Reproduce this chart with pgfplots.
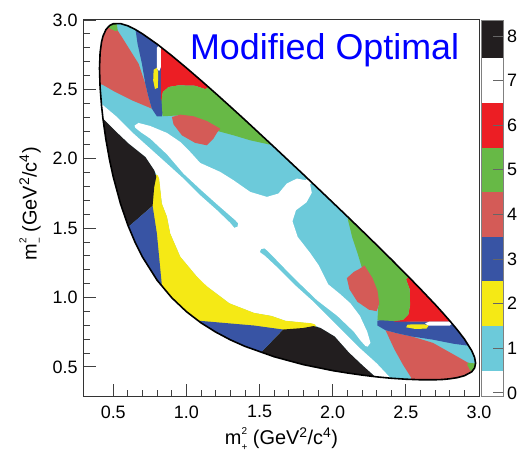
\documentclass[border=0pt]{standalone}
\usepackage{fontspec}
\setmainfont{Liberation Sans}
\usepackage{pgfplots}
\usepackage{pgfplotstable}
\pgfplotsset{compat=1.18}
\definecolor{cCyan}{RGB}{108,202,218}
\definecolor{cYel}{RGB}{245,233,21}
\definecolor{cBlu}{RGB}{56,84,164}
\definecolor{cSal}{RGB}{212,91,87}
\definecolor{cGrn}{RGB}{103,185,70}
\definecolor{cRed}{RGB}{236,30,36}
\definecolor{cBlk}{RGB}{34,30,31}
\newcommand{\mss}[1]{m\rlap{\raisebox{0.52em}{\fontsize{10}{10}\selectfont 2}}\raisebox{-0.3em}{\fontsize{10}{10}\selectfont #1}}

% Dalitz boundary (closed)
\pgfplotstableread{
x y
0.406 2.651
0.41 2.764
0.42 2.842
0.43 2.884
0.45 2.931
0.475 2.960
0.5 2.973
0.55 2.974
0.6 2.958
0.65 2.932
0.7 2.900
0.8 2.826
0.9 2.743
1.0 2.655
1.1 2.564
1.2 2.471
1.3 2.376
1.4 2.280
1.6 2.084
1.8 1.886
2.0 1.685
2.1 1.584
2.2 1.482
2.3 1.379
2.4 1.275
2.5 1.169
2.6 1.061
2.7 0.950
2.75 0.892
2.8 0.832
2.85 0.769
2.9 0.701
2.95 0.617
2.97 0.568
2.9766 0.526
2.97 0.492
2.95 0.464
2.9 0.436
2.85 0.422
2.8 0.414
2.75 0.409
2.7 0.407
2.6 0.407
2.5 0.411
2.4 0.418
2.3 0.428
2.2 0.441
2.1 0.456
2.0 0.473
1.8 0.516
1.6 0.573
1.4 0.648
1.3 0.695
1.2 0.751
1.1 0.817
1.0 0.898
0.9 0.998
0.8 1.124
0.7 1.291
0.65 1.396
0.6 1.521
0.55 1.674
0.5 1.869
0.475 1.990
0.45 2.137
0.43 2.285
0.42 2.381
0.41 2.515
0.406 2.651
}\tBound

% white mask outside the boundary
\pgfplotstableread{
x y
0.2 0.2
3.1 0.2
3.1 3.1
0.2 3.1
0.2 2.651
0.406 2.651
0.41 2.764
0.42 2.842
0.43 2.884
0.45 2.931
0.475 2.960
0.5 2.973
0.55 2.974
0.6 2.958
0.65 2.932
0.7 2.900
0.8 2.826
0.9 2.743
1.0 2.655
1.1 2.564
1.2 2.471
1.3 2.376
1.4 2.280
1.6 2.084
1.8 1.886
2.0 1.685
2.1 1.584
2.2 1.482
2.3 1.379
2.4 1.275
2.5 1.169
2.6 1.061
2.7 0.950
2.75 0.892
2.8 0.832
2.85 0.769
2.9 0.701
2.95 0.617
2.97 0.568
2.9766 0.526
2.97 0.492
2.95 0.464
2.9 0.436
2.85 0.422
2.8 0.414
2.75 0.409
2.7 0.407
2.6 0.407
2.5 0.411
2.4 0.418
2.3 0.428
2.2 0.441
2.1 0.456
2.0 0.473
1.8 0.516
1.6 0.573
1.4 0.648
1.3 0.695
1.2 0.751
1.1 0.817
1.0 0.898
0.9 0.998
0.8 1.124
0.7 1.291
0.65 1.396
0.6 1.521
0.55 1.674
0.5 1.869
0.475 1.990
0.45 2.137
0.43 2.285
0.42 2.381
0.41 2.515
0.406 2.651
0.2 2.651
}\tMask

% bin 7 (white) region, upper-left half
\pgfplotstableread{
x y
0.646 2.239
0.673 2.258
0.753 2.236
0.867 2.186
0.958 2.121
1.026 2.049
1.094 1.970
1.231 1.905
1.322 1.845
1.436 1.761
1.550 1.725
1.629 1.749
1.686 1.821
1.755 1.857
1.818 1.845
1.860 1.830
1.115 1.085
1.072 1.150
0.958 1.294
0.889 1.462
0.867 1.582
0.832 1.677
0.812 1.857
0.798 1.881
0.780 1.917
0.719 2.013
0.605 2.109
0.514 2.200
0.423 2.296
0.343 2.296
0.343 2.392
0.423 2.392
0.525 2.301
0.639 2.181
0.753 2.073
0.867 1.965
0.980 1.857
1.094 1.737
1.208 1.630
1.299 1.538
1.327 1.502
1.349 1.510
1.354 1.534
1.333 1.558
1.208 1.673
1.094 1.781
0.980 1.893
0.867 2.032
0.753 2.145
0.690 2.190
0.650 2.224
}\tWhite

\pgfplotstableread{
x y
0.343 2.517
0.343 3.068
0.491 3.068
0.514 2.972
0.530 2.924
0.559 2.877
0.616 2.781
0.673 2.685
0.719 2.541
0.741 2.445
0.764 2.361
0.628 2.421
0.514 2.481
0.423 2.536
}\tSalA

\pgfplotstableread{
x y
0.457 3.068
0.514 3.068
0.530 2.924
0.514 2.920
0.480 2.937
0.457 2.961
}\tGrnTip

\pgfplotstableread{
x y
0.639 3.044
0.650 2.948
0.666 2.829
0.696 2.685
0.719 2.541
0.741 2.445
0.764 2.361
0.798 2.306
0.832 2.306
0.844 2.349
0.835 2.421
0.826 2.541
0.826 2.781
0.828 2.900
0.832 3.044
}\tBluA

\pgfplotstableread{
x y
0.826 3.044
1.185 3.044
1.185 2.512
1.128 2.502
1.060 2.526
0.946 2.529
0.878 2.517
0.839 2.481
0.830 2.421
0.826 2.421
}\tRed

\pgfplotstableread{
x y
0.798 2.800
0.812 2.817
0.826 2.809
0.826 2.661
0.814 2.632
0.798 2.649
}\tWsl

\pgfplotstableread{
x y
0.776 2.641
0.798 2.656
0.807 2.625
0.805 2.512
0.785 2.502
0.773 2.565
}\tYsl

\pgfplotstableread{
x y
0.830 2.421
0.839 2.481
0.878 2.517
0.946 2.529
1.060 2.526
1.128 2.502
1.185 2.541
1.777 2.541
1.777 2.085
1.561 2.104
1.436 2.133
1.322 2.169
1.220 2.198
1.094 2.258
0.958 2.313
0.837 2.306
}\tGrn

\pgfplotstableread{
x y
0.901 2.301
0.958 2.318
1.049 2.306
1.140 2.272
1.231 2.217
1.208 2.186
1.185 2.145
1.140 2.097
1.060 2.114
0.969 2.169
0.912 2.248
}\tSalB

\pgfplotstableread{
x y
0.700 1.850
0.790 1.885
0.805 1.880
0.814 1.855
0.832 1.677
0.867 1.582
0.889 1.462
0.958 1.294
1.072 1.150
1.110 1.110
0.900 0.850
0.700 1.000
}\tYel

\pgfplotstableread{
x y
0.297 2.325
0.423 2.296
0.514 2.200
0.605 2.109
0.719 2.013
0.780 1.917
0.794 1.869
0.780 1.797
0.769 1.661
0.605 1.510
0.297 1.510
}\tBlk

\pgfplotstableread{
x y
0.605 1.510
0.769 1.661
0.798 1.462
0.832 1.090
0.730 0.982
0.297 0.982
0.297 1.510
}\tBluB

\begin{document}
\begin{tikzpicture}
\begin{axis}[
  at={(0bp,0bp)}, anchor=south west,
  scale only axis, width=395bp, height=376bp,
  xmin=0.3, xmax=3.0, ymin=0.29, ymax=3.0,
  axis on top,
  xtick={0.5,1.0,1.5,2.0,2.5,3.0},
  ytick={0.5,1.0,1.5,2.0,2.5,3.0},
  minor x tick num=4, minor y tick num=4,
  xtick pos=left, ytick pos=left,
  tick align=inside,
  major tick length=12bp, minor tick length=6bp,
  tick style={black!75, line width=0.8bp},
  axis line style={black!80, line width=1bp},
  ticklabel style={font=\fontsize{18}{21}\selectfont},
  xticklabel style={yshift=-6bp},
  yticklabel style={xshift=-3bp},
  /pgf/number format/fixed,
  /pgf/number format/fixed zerofill,
  /pgf/number format/precision=1,
  /pgf/number format/assume math mode=true,
  xlabel={\mss{+} (GeV\textsuperscript{2}/c\textsuperscript{4})},
  ylabel={\mss{−} (GeV\textsuperscript{2}/c\textsuperscript{4})},
  label style={font=\fontsize{20}{24}\selectfont},
  xlabel style={at={(axis description cs:0.5,-0.114)}, anchor=center},
  ylabel style={at={(axis description cs:-0.134,0.511)}, anchor=center},
]
\addplot[fill=cCyan, draw=none] coordinates {(0.2,0.2) (3.1,0.2) (3.1,3.1) (0.2,3.1)};
\addplot[fill=white, draw=none] table[x=x,y=y] {\tWhite};
\addplot[fill=white, draw=none] table[x=y,y=x] {\tWhite};
\addplot[fill=cSal, draw=none] table[x=x,y=y] {\tSalA};
\addplot[fill=cSal, draw=none] table[x=y,y=x] {\tSalA};
\addplot[fill=cGrn, draw=none] table[x=x,y=y] {\tGrnTip};
\addplot[fill=cGrn, draw=none] table[x=y,y=x] {\tGrnTip};
\addplot[fill=cBlu, draw=none] table[x=x,y=y] {\tBluA};
\addplot[fill=cBlu, draw=none] table[x=y,y=x] {\tBluA};
\addplot[fill=cRed, draw=none] table[x=x,y=y] {\tRed};
\addplot[fill=cRed, draw=none] table[x=y,y=x] {\tRed};
\addplot[fill=white, draw=none] table[x=x,y=y] {\tWsl};
\addplot[fill=white, draw=none] table[x=y,y=x] {\tWsl};
\addplot[fill=cYel, draw=none] table[x=x,y=y] {\tYsl};
\addplot[fill=cYel, draw=none] table[x=y,y=x] {\tYsl};
\addplot[fill=cGrn, draw=none] table[x=x,y=y] {\tGrn};
\addplot[fill=cGrn, draw=none] table[x=y,y=x] {\tGrn};
\addplot[fill=cSal, draw=none] table[x=x,y=y] {\tSalB};
\addplot[fill=cSal, draw=none] table[x=y,y=x] {\tSalB};
\addplot[fill=cYel, draw=none] table[x=x,y=y] {\tYel};
\addplot[fill=cYel, draw=none] table[x=y,y=x] {\tYel};
\addplot[fill=cBlk, draw=none] table[x=x,y=y] {\tBlk};
\addplot[fill=cBlk, draw=none] table[x=y,y=x] {\tBlk};
\addplot[fill=cBlu, draw=none] table[x=x,y=y] {\tBluB};
\addplot[fill=cBlu, draw=none] table[x=y,y=x] {\tBluB};
\addplot[fill=white, draw=none] table[x=x,y=y] {\tMask};
\addplot[black, line width=1.6bp, line join=round] table[x=x,y=y] {\tBound};
\node[anchor=base west, text=blue, font=\fontsize{36}{40}\selectfont, inner sep=0pt] at (rel axis cs:0.268,0.894) {Modified Optimal};
\end{axis}
\begin{axis}[
  at={(397bp,0bp)}, anchor=south west,
  scale only axis, width=22.5bp, height=376bp,
  xmin=0, xmax=1, ymin=-0.07, ymax=8.36,
  axis on top,
  xtick=\empty,
  ytick={0,1,2,3,4,5,6,7,8},
  ytick pos=right, yticklabel pos=right,
  tick align=inside,
  major tick length=11bp,
  tick style={black!60, line width=0.8bp},
  axis line style={black!50, line width=0.8bp},
  ticklabel style={font=\fontsize{18}{21}\selectfont},
  /pgf/number format/assume math mode=true,
]
\addplot[fill=cCyan, draw=none] coordinates {(0,0.5) (1,0.5) (1,1.5) (0,1.5)};
\addplot[fill=cYel, draw=none] coordinates {(0,1.5) (1,1.5) (1,2.5) (0,2.5)};
\addplot[fill=cBlu, draw=none] coordinates {(0,2.5) (1,2.5) (1,3.5) (0,3.5)};
\addplot[fill=cSal, draw=none] coordinates {(0,3.5) (1,3.5) (1,4.5) (0,4.5)};
\addplot[fill=cGrn, draw=none] coordinates {(0,4.5) (1,4.5) (1,5.5) (0,5.5)};
\addplot[fill=cRed, draw=none] coordinates {(0,5.5) (1,5.5) (1,6.5) (0,6.5)};
\addplot[fill=cBlk, draw=none] coordinates {(0,7.5) (1,7.5) (1,8.5) (0,8.5)};
\end{axis}
\pgfresetboundingbox
\useasboundingbox (-84bp,-57bp) rectangle (439bp,396bp);
\end{tikzpicture}
\end{document}
